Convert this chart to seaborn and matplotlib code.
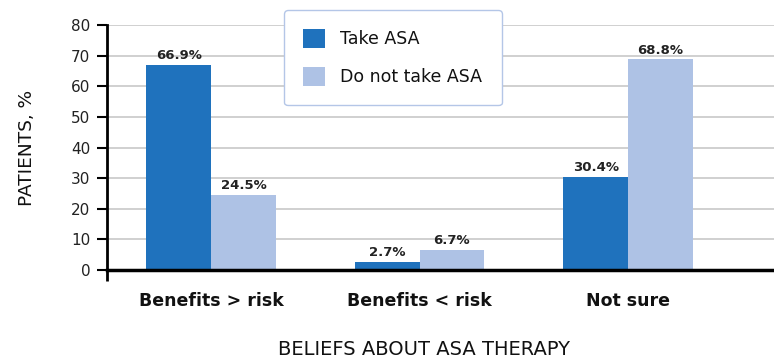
import matplotlib
matplotlib.use("Agg")
import matplotlib.pyplot as plt
import seaborn as sns
import pandas as pd

categories = ["Benefits > risk", "Benefits < risk", "Not sure"]
series_names = ["Take ASA", "Do not take ASA"]
take_asa = [66.9, 2.7, 30.4]
not_take_asa = [24.5, 6.7, 68.8]
y_ticks = [0, 10, 20, 30, 40, 50, 60, 70, 80]

sns.set_theme(style="white")
plt.rcParams["font.family"] = ["DejaVu Sans"]

df = pd.DataFrame({
    "cat": categories * 2,
    "series": [series_names[0]] * 3 + [series_names[1]] * 3,
    "val": take_asa + not_take_asa,
})

colors = ["#1f72bd", "#aec2e5"]
fig = plt.figure(figsize=(7.74, 3.62), dpi=100)
ax = fig.add_axes([0.138, 0.254, 0.862, 0.677])

sns.barplot(data=df, x="cat", y="val", hue="series", palette=colors,
            width=0.62, gap=0, saturation=1, ax=ax, legend=True, zorder=3,
            linewidth=0, edgecolor="none")

for cont in ax.containers:
    ax.bar_label(cont, fmt="%.1f%%", padding=2, fontsize=9.5,
                 fontweight="bold", color="#222222")

ax.set_ylim(0, 80)
ax.set_xlim(-0.5, 2.7)
ax.set_yticks(y_ticks)
ax.yaxis.grid(True, color="#c8c8c8", linewidth=1.2, zorder=0)
ax.set_axisbelow(True)
for s in ["top", "right"]:
    ax.spines[s].set_visible(False)
ax.spines["left"].set_color("black")
ax.spines["left"].set_linewidth(2)
ax.spines["bottom"].set_color("black")
ax.spines["bottom"].set_linewidth(2.5)
ax.spines["bottom"].set_zorder(5)

ax.tick_params(axis="y", which="major", left=True, length=7, width=1.5,
               direction="out", color="black", labelsize=11, pad=5,
               labelcolor="#222222")
ax.tick_params(axis="x", which="major", bottom=False, labelsize=12.5, pad=10,
               labelcolor="#111111")
for lbl in ax.get_xticklabels():
    lbl.set_fontweight("bold")
ax.set_xticks([-0.5], minor=True)
ax.tick_params(axis="x", which="minor", bottom=True, length=8, width=2,
               direction="out", color="black")

ax.set_xlabel("BELIEFS ABOUT ASA THERAPY", fontsize=14, color="#111111")
ax.xaxis.set_label_coords(0.475, -0.285)
ax.set_ylabel("PATIENTS, %", fontsize=13.3, labelpad=25, color="#111111")

leg = ax.legend(loc="upper left", bbox_to_anchor=(0.367, 0.972),
                bbox_transform=fig.transFigure, fontsize=12.5,
                handlelength=1.25, handleheight=1.25, handletextpad=0.9,
                labelspacing=1.1, borderpad=1.1, borderaxespad=0,
                frameon=True, fancybox=True, framealpha=1, title=None)
leg.get_frame().set_edgecolor("#b4c6e7")
leg.get_frame().set_linewidth(1)
for t in leg.get_texts():
    t.set_color("#111111")

fig.savefig("out.png", dpi=100)
